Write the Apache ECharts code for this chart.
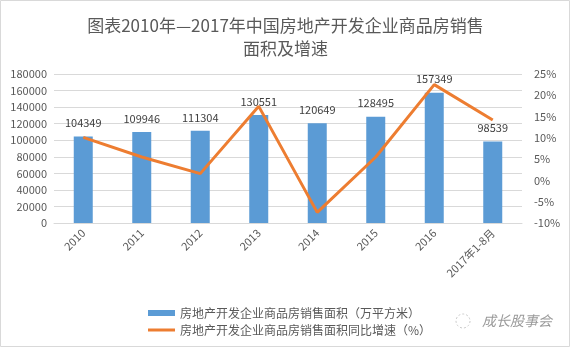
<!DOCTYPE html>
<html><head><meta charset="utf-8">
<script src="https://cdn.jsdelivr.net/npm/echarts@6/dist/echarts.min.js"></script>
<style>html,body{margin:0;padding:0;background:#fff}#c{width:571px;height:348px}</style>
</head><body><div id="c"></div>
<script>
const categories = ['2010','2011','2012','2013','2014','2015','2016','2017年1-8月'];
const salesArea = [104349,109946,111304,130551,120649,128495,157349,98539];
const growthRate = [10.1,5.5,1.6,17.4,-7.5,5.5,22.5,14.2];
const leftTicks = {min:0, max:180000, interval:20000};
const rightTicks = {min:-10, max:25, interval:5};
const titleText = '图表2010年—2017年中国房地产开发企业商品房销售\n面积及增速';
const seriesNames = ['房地产开发企业商品房销售面积（万平方米）','房地产开发企业商品房销售面积同比增速（%）'];
const watermark = '成长股事会';

const txt = '#595959';
const font = '"Noto Sans CJK SC", "Noto Sans", sans-serif';
const chart = echarts.init(document.getElementById('c'), null, {renderer:'canvas'});
chart.setOption({
  animation:false,
  textStyle:{fontFamily:font},
  title:{text:titleText, left:'center', top:9, textStyle:{color:txt, fontSize:17, fontWeight:'normal', lineHeight:23, fontFamily:font}},
  grid:{left:54, right:49, top:74, bottom:125, containLabel:false},
  legend:{orient:'vertical', left:143, top:302, itemWidth:27, itemHeight:6, itemGap:5, symbolKeepAspect:true,
    textStyle:{color:txt, fontSize:12, fontFamily:font},
    data:[{name:seriesNames[0], icon:'rect'},{name:seriesNames[1], icon:'path://M0,0L27,0L27,3L0,3Z'}]},
  xAxis:{type:'category', data:categories,
    axisLine:{lineStyle:{color:'#d9d9d9'}}, axisTick:{show:false},
    axisLabel:{color:txt, fontSize:11, rotate:45, interval:0, margin:8, fontFamily:font}},
  yAxis:[
    {type:'value', min:leftTicks.min, max:leftTicks.max, interval:leftTicks.interval,
      axisLine:{show:false}, axisTick:{show:false},
      axisLabel:{color:txt, fontSize:11, margin:7, fontFamily:font, formatter:function(v){return String(v);}},
      splitLine:{lineStyle:{color:'#d9d9d9'}}},
    {type:'value', min:rightTicks.min, max:rightTicks.max, interval:rightTicks.interval, alignTicks:false,
      axisLine:{show:false}, axisTick:{show:false},
      axisLabel:{color:txt, fontSize:11, margin:12, formatter:'{value}%', fontFamily:font},
      splitLine:{show:false}}
  ],
  series:[
    {name:seriesNames[0], type:'bar', data:salesArea, barWidth:19, itemStyle:{color:'#5B9BD5'},
      label:{show:true, position:'top', distance:8, color:'#404040', fontSize:11, fontFamily:font}, z:2},
    {name:seriesNames[1], type:'line', yAxisIndex:1, data:growthRate, symbol:'none',
      lineStyle:{color:'#ED7D31', width:3}, itemStyle:{color:'#ED7D31'}, z:3}
  ],
  graphic:[
    {type:'rect', shape:{x:0.5, y:0.5, width:569, height:346}, style:{fill:'none', stroke:'#d9d9d9', lineWidth:1}, silent:true},
    {type:'circle', shape:{cx:463, cy:321, r:7}, style:{fill:'none', stroke:'#c8c8c8', lineWidth:1, lineDash:[2,2]}},
    {type:'text', left:482, top:314, style:{text:watermark, fill:'#9a9a9a', font:'italic 14px "Noto Sans CJK SC", sans-serif'}}
  ]
});
</script></body></html>
